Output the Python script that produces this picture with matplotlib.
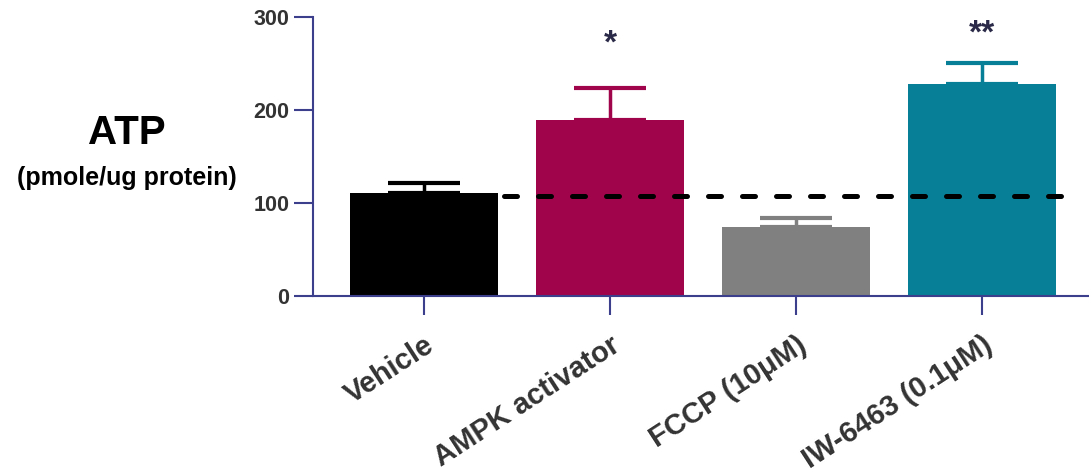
import matplotlib
matplotlib.use("Agg")
import matplotlib.pyplot as plt

categories = ["Vehicle", "AMPK activator", "FCCP (10μM)", "IW-6463 (0.1μM)"]
values = [111, 189, 74.5, 227.5]
errors = [10.5, 35, 9, 23.5]
colors = ["#000000", "#A0044A", "#808080", "#077F96"]
stars = ["", "*", "", "**"]
star_y = [0, 271, 0, 282]
baseline_value = 108
baseline_x = [0.43, 3.435]
yticks = [0, 100, 200, 300]

axis_color = "#3B3F8C"
text_color = "#333333"

plt.rcParams['font.family'] = ['Liberation Sans', 'DejaVu Sans']
plt.rcParams['font.weight'] = 'bold'

fig = plt.figure(figsize=(10.89, 4.75), dpi=100)
ax = fig.add_axes([313/1089, 1-296/475, 1-313/1089, (296-17)/475])

x = list(range(len(categories)))
ax.bar(x, values, width=0.8, color=colors, linewidth=0, zorder=2)
for i in x:
    ax.errorbar(i, values[i], yerr=[[0], [errors[i]]], color=colors[i],
                capsize=26, elinewidth=2.5, capthick=3, fmt='none', zorder=1)
    if stars[i]:
        ax.text(i, star_y[i], stars[i], ha='center', va='center',
                fontsize=24, fontweight='bold', color="#2A2A48")

ax.plot(baseline_x, [baseline_value]*2, color='black', linewidth=3.6,
        dashes=(2.6, 4.2), dash_capstyle='round', zorder=3)

ax.set_xlim(-0.597, 3.575)
ax.set_ylim(0, 300)
ax.set_yticks(yticks)
ax.set_yticklabels([str(t) for t in yticks], fontsize=15.5, fontweight='bold', color=text_color)
ax.set_xticks(x)
ax.set_xticklabels(categories, rotation=33, rotation_mode='anchor', ha='right', va='top',
                   fontsize=21, fontweight='bold', color=text_color)

for s in ['top', 'right']:
    ax.spines[s].set_visible(False)
for s in ['left', 'bottom']:
    ax.spines[s].set_color(axis_color)
    ax.spines[s].set_linewidth(1.5)
ax.tick_params(axis='y', length=14, width=1.5, color=axis_color, pad=3)
ax.tick_params(axis='x', length=14, width=1.5, color=axis_color, pad=11)
ax.set_facecolor('none')

fig.text(127/1089, 1-133/475, "ATP", ha='center', va='center', fontsize=29, fontweight='bold', color='black')
fig.text(127/1089, 1-178/475, "(pmole/ug protein)", ha='center', va='center', fontsize=18, fontweight='bold', color='black')

fig.savefig("out.png", dpi=100)
